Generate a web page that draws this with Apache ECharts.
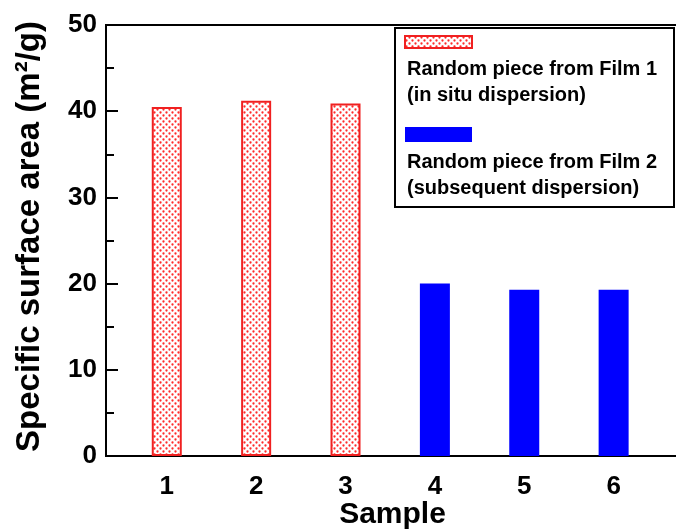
<!DOCTYPE html>
<html>
<head>
<meta charset="utf-8">
<script src="https://cdn.jsdelivr.net/npm/echarts@6/dist/echarts.min.js"></script>
<style>
body { margin: 0; background: #fff; }
#chart { width: 676px; height: 530px; }
</style>
</head>
<body>
<div id="chart"></div>
<script>
// data
const samples1 = [1, 2, 3];
const values1 = [40.5, 41.2, 40.9];
const samples2 = [4, 5, 6];
const values2 = [20.0, 19.3, 19.3];
const xTickValues = [1, 2, 3, 4, 5, 6];
const legendFilm1 = ['Random piece from Film 1', '(in situ dispersion)'];
const legendFilm2 = ['Random piece from Film 2', '(subsequent dispersion)'];

const FONT = 'Arial, "Liberation Sans", sans-serif';

// dotted fill like the Origin pattern
function dotPattern() {
    let c = document.createElement('canvas');
    c.width = 6; c.height = 6;
    let ctx = c.getContext('2d');
    ctx.fillStyle = '#ffffff';
    ctx.fillRect(0, 0, 6, 6);
    ctx.fillStyle = '#ff2a2a';
    ctx.beginPath(); ctx.arc(1.5, 1.5, 1.15, 0, Math.PI * 2); ctx.fill();
    ctx.beginPath(); ctx.arc(4.5, 4.5, 1.15, 0, Math.PI * 2); ctx.fill();
    return c;
}
const pattern = dotPattern();

let chart = echarts.init(document.getElementById('chart'), null, {renderer: 'canvas'});
chart.setOption({
    animation: false,
    backgroundColor: '#ffffff',
    grid: {
        left: 106,
        top: 25,
        bottom: 74,
        width: 597,   // right edge of the frame sits outside the picture
        containLabel: false,
        outerBoundsMode: 'none',
        show: true,
        borderColor: '#000',
        borderWidth: 2
    },
    xAxis: {
        type: 'value',
        min: 0.32,
        max: 7,
        name: 'Sample',
        nameLocation: 'middle',
        nameGap: 44,
        nameMoveOverlap: false,
        nameTextStyle: {fontFamily: FONT, fontWeight: 'bold', fontSize: 30, color: '#000', padding: [0, 24, 0, 0]},
        axisLine: {show: true, onZero: false, lineStyle: {color: '#000', width: 2}},
        axisTick: {show: false},
        splitLine: {show: false},
        axisLabel: {
            customValues: xTickValues,
            margin: 18,
            fontFamily: FONT, fontWeight: 'bold', fontSize: 26, color: '#000'
        }
    },
    yAxis: [
        {
            type: 'value',
            min: 0,
            max: 50,
            interval: 10,
            name: 'Specific surface area (m²/g)',
            nameLocation: 'middle',
            nameRotate: 90,
            nameGap: 60,
            nameMoveOverlap: false,
            nameTextStyle: {fontFamily: FONT, fontWeight: 'bold', fontSize: 33, color: '#000', padding: [0, 0, 0, 8]},
            axisLine: {show: true, lineStyle: {color: '#000', width: 2}},
            axisTick: {show: true, inside: true, length: 12, lineStyle: {color: '#000', width: 2}},
            splitLine: {show: false},
            axisLabel: {margin: 9, fontFamily: FONT, fontWeight: 'bold', fontSize: 26, color: '#000'}
        },
        {
            // minor ticks every 5
            type: 'value',
            position: 'left',
            offset: 0,
            min: 0,
            max: 50,
            interval: 5,
            axisLine: {show: false},
            axisTick: {show: true, inside: true, length: 8, lineStyle: {color: '#000', width: 2}},
            axisLabel: {show: false},
            splitLine: {show: false}
        }
    ],
    series: [
        {
            name: 'Film 1',
            type: 'bar',
            barWidth: 30,
            barGap: '-100%',
            data: samples1.map((s, i) => [s, values1[i]]),
            itemStyle: {
                color: {image: pattern, repeat: 'repeat'},
                borderColor: '#f02020',
                borderWidth: 2
            }
        },
        {
            name: 'Film 2',
            type: 'bar',
            barWidth: 30,
            barGap: '-100%',
            data: samples2.map((s, i) => [s, values2[i]]),
            itemStyle: {color: '#0000ff'}
        }
    ],
    graphic: [
        {
            type: 'rect',
            shape: {x: 395, y: 28, width: 279, height: 179},
            style: {fill: '#fff', stroke: '#000', lineWidth: 2},
            z: 10
        },
        {
            type: 'rect',
            shape: {x: 405, y: 36, width: 67, height: 12},
            style: {fill: {image: pattern, repeat: 'repeat'}, stroke: '#f02020', lineWidth: 2},
            z: 11
        },
        {
            type: 'text',
            x: 407, y: 56,
            style: {text: legendFilm1.join('\n'), font: 'bold 20px ' + FONT, fill: '#000', lineHeight: 26, verticalAlign: 'top'},
            z: 11
        },
        {
            type: 'rect',
            shape: {x: 405, y: 127, width: 67, height: 15},
            style: {fill: '#0000ff'},
            z: 11
        },
        {
            type: 'text',
            x: 407, y: 149,
            style: {text: legendFilm2.join('\n'), font: 'bold 20px ' + FONT, fill: '#000', lineHeight: 26, verticalAlign: 'top'},
            z: 11
        }
    ]
});
</script>
</body>
</html>
